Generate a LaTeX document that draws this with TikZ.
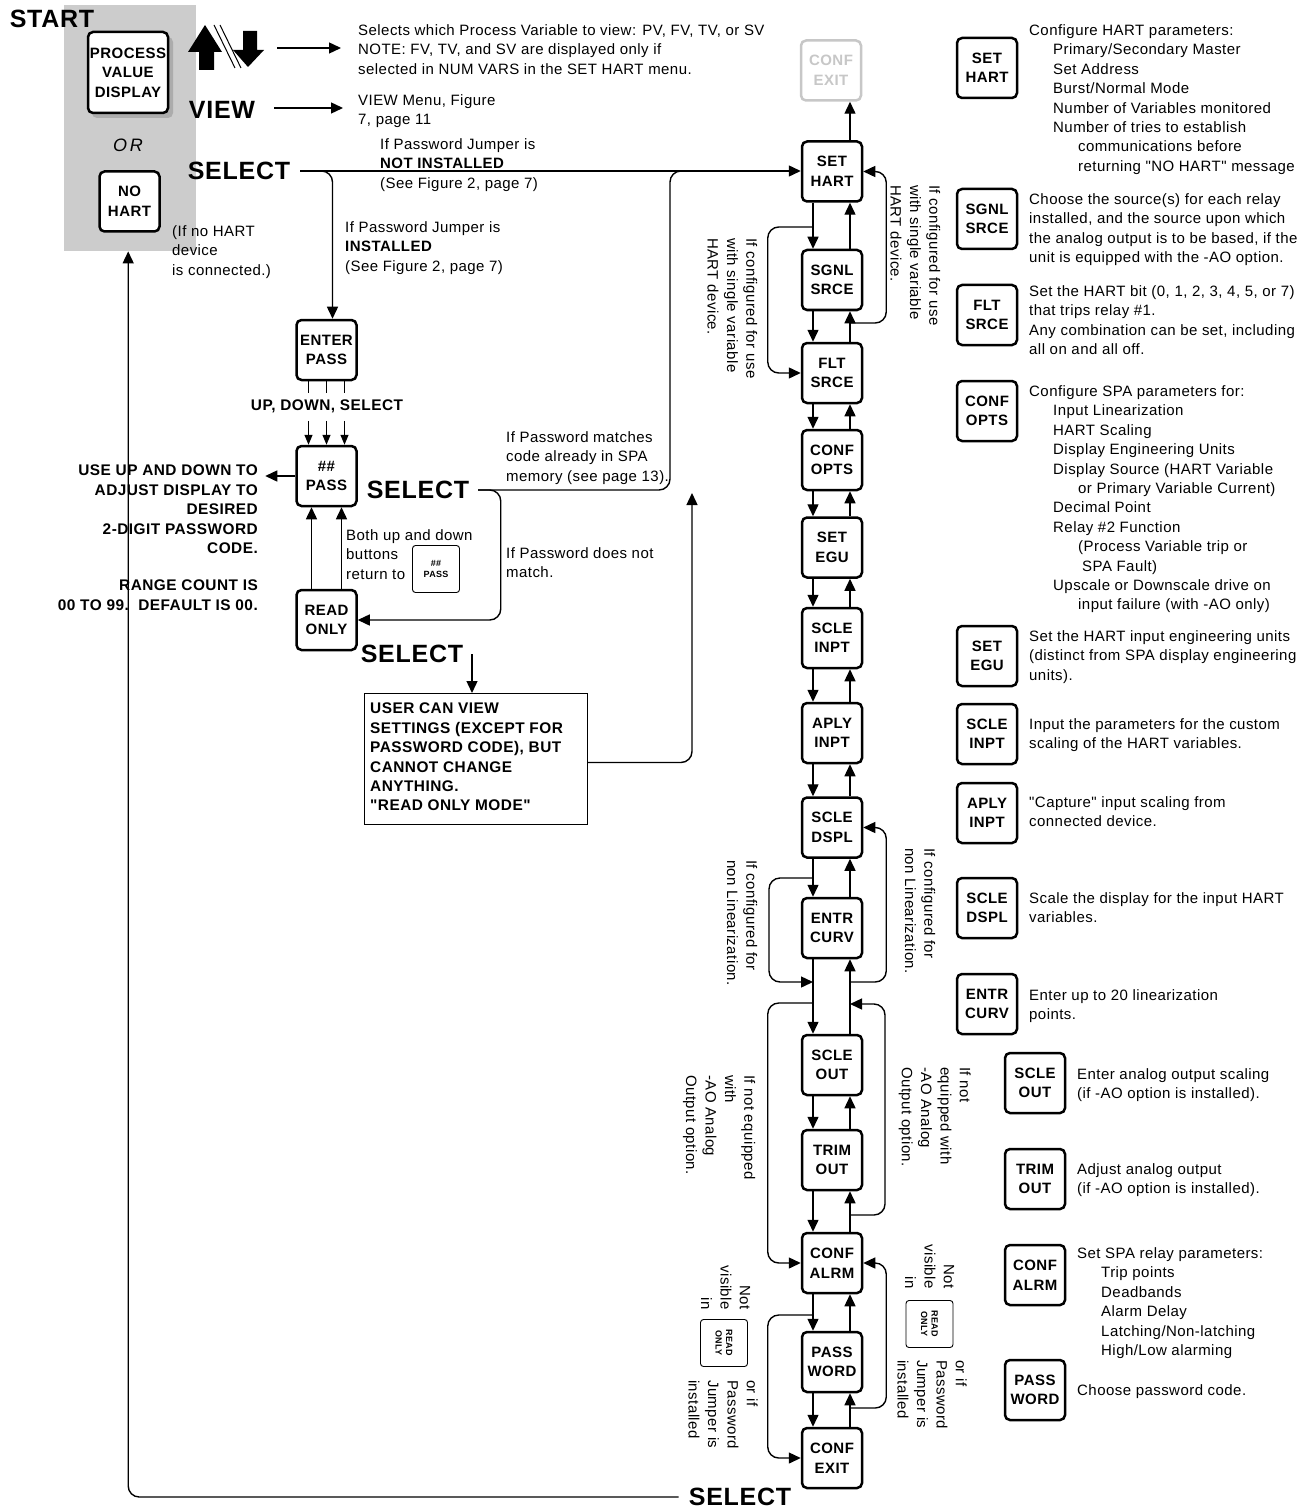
\documentclass[tikz,border=0pt]{standalone}
\usepackage{fontspec}
\setmainfont{Liberation Sans}
\newfontfamily\txtfam{Liberation Sans}[LetterSpace=3]
\newfontfamily\lblfam{Liberation Sans}[LetterSpace=3]
\usetikzlibrary{arrows.meta}
\newcommand\bodyf{\txtfam\fontsize{15}{19.4}\selectfont}
\newcommand\lblf{\lblfam\bfseries\fontsize{15}{19.5}\selectfont}
\newcommand\boldf{\lblfam\bfseries\fontsize{15.4}{19.4}\selectfont}
\newcommand\bigf{\lblfam\bfseries\fontsize{25}{30}\selectfont}
\newcommand\tinyf{\lblfam\bfseries\fontsize{9}{10.5}\selectfont}
\tikzset{
  key/.style={draw, line width=2.5pt, rounded corners=5pt, fill=white, minimum width=60pt, minimum height=60pt, inner sep=0pt, align=center, font=\lblf},
  minikey/.style={draw, line width=0.9pt, rounded corners=3pt, fill=white, minimum width=47pt, minimum height=47pt, inner sep=0pt, align=center, font=\tinyf},
  txt/.style={anchor=north west, inner sep=0pt, align=left, font=\bodyf},
  rot/.style={rotate=-90, anchor=north west, inner sep=0pt, align=left, font=\bodyf},
  rotr/.style={rotate=-90, anchor=north east, inner sep=0pt, align=right, font=\bodyf},
  big/.style={inner sep=0pt, font=\bigf},
  ln/.style={line width=1.4pt},
  arr/.style={line width=1.4pt, -{Triangle[length=12pt,width=11pt]}},
  sarr/.style={line width=1.3pt, -{Triangle[length=10pt,width=8pt]}},
  loopc/.style={rounded corners=11pt},
}
\begin{document}
\begin{tikzpicture}[x=1pt, y=-1pt]
\useasboundingbox (0,0) rectangle (1312,1511);

% ---------- start panel ----------
\node[fill=gray!40, minimum width=132pt, minimum height=246pt, inner sep=0pt, anchor=north west] (panel) at (64,5) {};
\fill[gray!65, rounded corners=5pt] (92,37) rectangle (173,118);
\node[key, minimum width=80pt, minimum height=81pt] (pvd) at (128,72.5) {PROCESS\\VALUE\\DISPLAY};
\node[inner sep=0pt, font=\txtfam\itshape\fontsize{18}{20}\selectfont] (or) at (128,145) {O\,R};
\node[key] (nohart) at (129.5,201.5) {NO\\HART};
\node[big] (start) at (52,19) {START};

% block arrows
\fill (205,25) -- (222,52) -- (214,52) -- (214,70) -- (199,70) -- (199,52) -- (188,52) -- cycle;
\fill (243,31) -- (257,31) -- (257,50) -- (264,50) -- (248,67) -- (233,50) -- (243,50) -- cycle;
\draw[line width=1pt] (214,25) -- (235,68);
\draw[line width=1pt] (220,25) -- (241,68);

\node[txt] (t1) at (358,24.5) {Selects which Process Variable to view: PV, FV, TV, or SV\\NOTE: FV, TV, and SV are displayed only if\\selected in NUM VARS in the SET HART menu.};
\coordinate (a1) at (277,48);
\draw[arr] (a1) -- ([xshift=-17pt]t1.west |- a1);

\node[big] (view) at (222,110) {VIEW};
\node[txt] (t2) at (358,94.5) {VIEW Menu, Figure\\7, page 11};
\coordinate (a2) at (274,108);
\draw[arr] (a2) -- ([xshift=-15pt]t2.west |- a2);

\node[big] (sel1) at (239,171) {SELECT};
\node[txt] (t3) at (380,138.5) {If Password Jumper is\\\textbf{NOT INSTALLED}\\(See Figure 2, page 7)};
\node[txt] (t4) at (345,221.5) {If Password Jumper is\\\textbf{INSTALLED}\\(See Figure 2, page 7)};
\node[txt] (t5) at (172,225.5) {(If no HART\\device\\is connected.)};

% ---------- main column ----------
\node[key, draw=black!22, text=black!22] (mCEg) at (831,70.5) {CONF\\EXIT};
\node[key] (mSH) at (832,171.5) {SET\\HART};
\node[key] (mSS) at (832,280) {SGNL\\SRCE};
\node[key] (mFS) at (832,373) {FLT\\SRCE};
\node[key] (mCO) at (832,460) {CONF\\OPTS};
\node[key] (mSE) at (832,547.5) {SET\\EGU};
\node[key] (mSI) at (832,638) {SCLE\\INPT};
\node[key] (mAI) at (832,733) {APLY\\INPT};
\node[key] (mSD) at (832,827.5) {SCLE\\DSPL};
\node[key] (mEC) at (832,928) {ENTR\\CURV};
\node[key] (mSO) at (832,1065) {SCLE\\OUT};
\node[key] (mTO) at (832,1160) {TRIM\\OUT};
\node[key] (mCA) at (832,1263) {CONF\\ALRM};
\node[key] (mPW) at (832,1362) {PASS\\WORD};
\node[key] (mCE) at (832,1458) {CONF\\EXIT};

\draw[arr] ([xshift=18pt]mSH.north) -- ([xshift=19pt]mCEg.south);
\foreach \a/\b in {mSH/mSS, mSS/mFS, mFS/mCO, mCO/mSE, mSE/mSI, mSI/mAI, mAI/mSD, mSD/mEC, mEC/mSO, mSO/mTO, mTO/mCA, mCA/mPW, mPW/mCE} {
  \draw[arr] ([xshift=-19pt]\a.south) -- ([xshift=-19pt]\b.north);
  \draw[arr] ([xshift=18pt]\b.north) -- ([xshift=18pt]\a.south);
}

% loops
\coordinate (j1) at (850,323);
\draw[arr, loopc] (j1) -| ([xshift=23pt]mSH.east) -- (mSH.east);
\coordinate (j2) at (813,227);
\draw[arr, loopc] (j2) -| ([xshift=-33pt]mFS.west) -- (mFS.west);
\coordinate (j3) at (850,982);
\draw[arr, loopc] (j3) -| ([xshift=23pt]mSD.east) -- (mSD.east);
\coordinate (j4) at (813,878);
\coordinate (j5) at (813,982);
\draw[arr, loopc] (j4) -| ([xshift=-44pt]j5) -- (j5);
\coordinate (j6) at (813,1003);
\draw[arr, loopc] (j6) -| ([xshift=-33pt]mCA.west) -- (mCA.west);
\coordinate (j7) at (850,1215);
\coordinate (j8) at (850,1004);
\draw[arr, loopc] (j7) -| ([xshift=35pt]j8) -- (j8);
\coordinate (j9) at (813,1315);
\draw[arr, loopc] (j9) -| ([xshift=-33pt]mCE.west) -- (mCE.west);
\coordinate (j10) at (850,1408);
\draw[arr, loopc] (j10) -| ([xshift=23pt]mCA.east) -- (mCA.east);

% rotated notes
\node[rot] (r1) at (940.5,185) {If configured for use\\with single variable\\HART device.};
\node[rot] (r2) at (757.5,238) {If configured for use\\with single variable\\HART device.};
\node[rot] (r3) at (935.5,848) {If configured for\\non Linearization.};
\node[rot] (r4) at (757.5,860) {If configured for\\non Linearization.};
\node[rot] (r5) at (971,1067) {If not\\equipped with\\-AO Analog\\Output option.};
\node[rot] (r6) at (755.5,1075) {If not equipped\\with\\-AO Analog\\Output option.};
\node[rotr] (r7) at (954.5,1289) {Not\\visible\\in};
\node[minikey, rotate=-90] (mini2) at (929.5,1324) {READ\\ONLY};
\node[rot] (r7b) at (967,1360) {or if\\Password\\Jumper is\\installed};
\node[rotr] (r8) at (750.5,1310) {Not\\visible\\in};
\node[minikey, rotate=-90] (mini3) at (724,1343) {READ\\ONLY};
\node[rot] (r8b) at (758,1380) {or if\\Password\\Jumper is\\installed};

% ---------- password branch ----------
\node[key] (ep) at (326.5,350) {ENTER\\PASS};
\coordinate (s1) at (300,171);
\draw[arr] (s1) -- (s1 -| mSH.west);
\draw[arr, loopc] (s1) -| ([xshift=6pt]ep.north);

\node[font=\boldf, inner sep=0pt] (uds) at (327,406) {UP, DOWN, SELECT};
\node[key] (pp) at (326.5,476) {\#\#\\PASS};
\node[key] (ro) at (326.5,620) {READ\\ONLY};
\foreach \dx in {-18,0,18} {
  \draw[line width=1.2pt] ([xshift=\dx pt]ep.south) -- ++(0,12);
  \draw[sarr] ([xshift=\dx pt, yshift=24pt]pp.north) -- ([xshift=\dx pt]pp.north);
}
\draw[arr] ([xshift=-15pt]ro.north) -- ([xshift=-15pt]pp.south);
\draw[arr] ([xshift=15pt]ro.north) -- ([xshift=15pt]pp.south);
\draw[arr] (pp.west) -- ++(-30,0);
\node[font=\boldf, align=right, anchor=north east, inner sep=0pt] (usetxt) at (258,465) {USE UP AND DOWN TO\\ADJUST DISPLAY TO\\DESIRED\\2-DIGIT PASSWORD\\CODE.\\[18pt]RANGE COUNT IS\\00 TO 99.\ \ DEFAULT IS 00.};

\node[big] (sel2) at (418,490) {SELECT};
\coordinate (s2) at (478,490);
\coordinate (jm) at (700,171);
\draw[ln, loopc] (s2) -| ([xshift=-30pt]jm) -- (jm);
\draw[arr, loopc] (s2) -| ([xshift=143pt]ro.east) -- (ro.east);
\node[txt] (t7) at (506,431.5) {If Password matches\\code already in SPA\\memory (see page 13).};
\node[txt] (t8) at (506,547.5) {If Password does not\\match.};
\node[txt] (t6) at (346,529.5) {Both up and down\\buttons\\return to};
\node[minikey] (mini1) at (436,569) {\#\#\\PASS};

\node[big] (sel3) at (412,654) {SELECT};
\coordinate (s3) at (472,654);
\node[draw, line width=1pt, anchor=north west, minimum width=223pt, minimum height=131pt, inner sep=0pt] (ucv) at (364,693) {};
\node[font=\boldf, align=left, anchor=north west, inner sep=0pt] (ucvt) at (370,703) {USER CAN VIEW\\SETTINGS (EXCEPT FOR\\PASSWORD CODE), BUT\\CANNOT CHANGE\\ANYTHING.\\"READ ONLY MODE"};
\draw[arr] (s3) -- (s3 |- ucv.north);
\coordinate (ju) at (692,493);
\draw[arr, loopc] ([yshift=-3.5pt]ucv.east) -| (ju);

% bottom return
\node[big] (sel4) at (740,1497) {SELECT};
\draw[arr, loopc] ([xshift=-10pt]sel4.west) -| ([xshift=-2pt]panel.south);

% ---------- right column descriptions ----------
\node[key] (dSH) at (987,68) {SET\\HART};
\node[txt] (dtSH) at (1029,24.5) {Configure HART parameters:\\\hspace*{24pt}Primary/Secondary Master\\\hspace*{24pt}Set Address\\\hspace*{24pt}Burst/Normal Mode\\\hspace*{24pt}Number of Variables monitored\\\hspace*{24pt}Number of tries to establish\\\hspace*{49pt}communications before\\\hspace*{49pt}returning "NO HART" message};
\node[key] (dSS) at (987,219) {SGNL\\SRCE};
\node[txt] (dtSS) at (1029,193.5) {Choose the source(s) for each relay\\installed, and the source upon which\\the analog output is to be based, if the\\unit is equipped with the -AO option.};
\node[key] (dFS) at (987,315) {FLT\\SRCE};
\node[txt] (dtFS) at (1029,285.5) {Set the HART bit (0, 1, 2, 3, 4, 5, or 7)\\that trips relay \#1.\\Any combination can be set, including\\all on and all off.};
\node[key] (dCO) at (987,411) {CONF\\OPTS};
\node[txt] (dtCO) at (1029,385.5) {Configure SPA parameters for:\\\hspace*{24pt}Input Linearization\\\hspace*{24pt}HART Scaling\\\hspace*{24pt}Display Engineering Units\\\hspace*{24pt}Display Source (HART Variable\\\hspace*{49pt}or Primary Variable Current)\\\hspace*{24pt}Decimal Point\\\hspace*{24pt}Relay \#2 Function\\\hspace*{49pt}(Process Variable trip or\\\hspace*{53pt}SPA Fault)\\\hspace*{24pt}Upscale or Downscale drive on\\\hspace*{49pt}input failure (with -AO only)};
\node[key] (dSE) at (987,656) {SET\\EGU};
\node[txt] (dtSE) at (1029,630.5) {Set the HART input engineering units\\(distinct from SPA display engineering\\units).};
\node[key] (dSI) at (987,734) {SCLE\\INPT};
\node[txt] (dtSI) at (1029,718.5) {Input the parameters for the custom\\scaling of the HART variables.};
\node[key] (dAI) at (987,813) {APLY\\INPT};
\node[txt] (dtAI) at (1029,796.5) {"Capture" input scaling from\\connected device.};
\node[key] (dSD) at (987,908) {SCLE\\DSPL};
\node[txt] (dtSD) at (1029,892.5) {Scale the display for the input HART\\variables.};
\node[key] (dEC) at (987,1004) {ENTR\\CURV};
\node[txt] (dtEC) at (1029,989.5) {Enter up to 20 linearization\\points.};
\node[key] (dSO) at (1035,1083) {SCLE\\OUT};
\node[txt] (dtSO) at (1077,1068.5) {Enter analog output scaling\\(if -AO option is installed).};
\node[key] (dTO) at (1035,1179) {TRIM\\OUT};
\node[txt] (dtTO) at (1077,1163.5) {Adjust analog output\\(if -AO option is installed).};
\node[key] (dCA) at (1035,1275) {CONF\\ALRM};
\node[txt] (dtCA) at (1077,1247.5) {Set SPA relay parameters:\\\hspace*{24pt}Trip points\\\hspace*{24pt}Deadbands\\\hspace*{24pt}Alarm Delay\\\hspace*{24pt}Latching/Non-latching\\\hspace*{24pt}High/Low alarming};
\node[key] (dPW) at (1035,1390) {PASS\\WORD};
\node[txt] (dtPW) at (1077,1384.5) {Choose password code.};
\end{tikzpicture}
\end{document}
